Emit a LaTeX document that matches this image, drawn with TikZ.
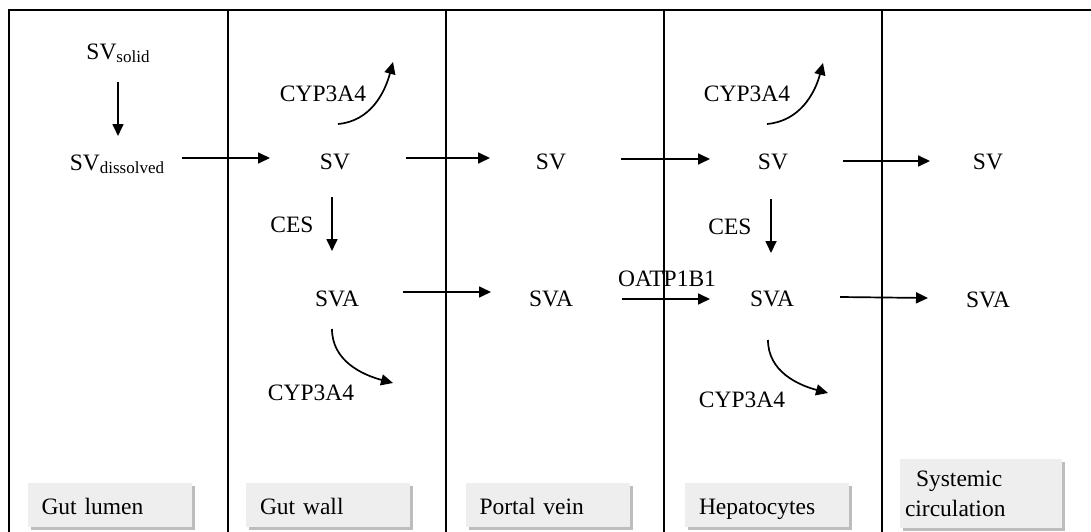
\documentclass[tikz,border=0pt]{standalone}
\usepackage{fontspec}
\setmainfont{Liberation Serif}
\usetikzlibrary{arrows.meta,shadows}
\definecolor{boxfill}{HTML}{EEEEEE}
\definecolor{boxshadow}{HTML}{BDBDBD}
\newcommand\mysubtxt[1]{\raisebox{-2.5pt}{\fontsize{17}{17}\selectfont #1}}
\begin{document}
\begin{tikzpicture}[x=1pt,y=1pt,
  font=\fontsize{23.5}{28}\selectfont,
  t/.style={inner sep=0pt, text height=15.5pt, text depth=0pt},
  arr/.style={line width=1.7pt, -{Triangle[length=12pt,width=11pt]}},
  frame/.style={line width=2.2pt},
  divider/.style={line width=1.8pt},
  boxbase/.style={fill=boxfill, inner ysep=0pt, inner xsep=14pt, text width=136pt,
    align=left, minimum height=44pt,
    general shadow={fill=boxshadow, shadow xshift=3pt, shadow yshift=-3pt}},
  boxlab/.style={boxbase, text height=20pt, text depth=1pt},
]
\useasboundingbox (0,0) rectangle (1091,-532);
% frame and column dividers
\draw[frame] (9,-532) -- (9,-10) -- (1091,-10);
\foreach \x in {228,446,664,882} \draw[divider] (\x,-10) -- (\x,-532);

% species nodes
\node[t] (svs) at (118,-52) {SV\mysubtxt{solid}};
\node[t] (svd) at (117,-163) {SV\mysubtxt{dissolved}};
\node[t] (sv1) at (335,-162) {SV};
\node[t] (sv2) at (551,-162) {SV};
\node[t] (sv3) at (773,-162) {SV};
\node[t] (sv4) at (988,-162) {SV};
\node[t] (sva1) at (337,-299) {SVA};
\node[t] (sva2) at (551,-299) {SVA};
\node[t] (sva3) at (772,-299) {SVA};
\node[t] (sva4) at (988,-300) {SVA};

% enzyme / transporter labels
\node[t] (c1) at (323,-94) {CYP3A4};
\node[t] (c2) at (311,-393) {CYP3A4};
\node[t] (c3) at (747,-94) {CYP3A4};
\node[t] (c4) at (742,-400) {CYP3A4};
\node[t] (ces1) at (292,-225) {CES};
\node[t] (ces2) at (730,-227) {CES};
\node[t] (oatp) at (667,-279) {OATP1B1};

% free ends of metabolism arrows
\coordinate (e1) at (393,-62);
\coordinate (e2) at (393,-383);
\coordinate (e3) at (823,-63);
\coordinate (e4) at (828,-393);

% straight arrows
\draw[arr] ([shift={(0,-30)}]svs.center) -- ([shift={(1,27)}]svd.center);
\draw[arr] ([shift={(65,5)}]svd.center) -- ([shift={(-65,4)}]sv1.center);
\draw[arr] ([shift={(71,4)}]sv1.center) -- ([shift={(-61,4)}]sv2.center);
\draw[arr] ([shift={(70,3)}]sv2.center) -- ([shift={(-63,3)}]sv3.center);
\draw[arr] ([shift={(70,1)}]sv3.center) -- ([shift={(-58,1)}]sv4.center);
\draw[arr] ([shift={(-3,-35)}]sv1.center) -- ([shift={(-5,48)}]sva1.center);
\draw[arr] ([shift={(-2,-37)}]sv3.center) -- ([shift={(-1,46)}]sva3.center);
\draw[arr] ([shift={(66,7)}]sva1.center) -- ([shift={(-60,7)}]sva2.center);
\draw[arr] ([shift={(71,0)}]sva2.center) -- ([shift={(-62,0)}]sva3.center);
\draw[arr] ([shift={(68,2)}]sva3.center) -- ([shift={(-60,2)}]sva4.center);

% curved metabolism arrows
\draw[arr] ([shift={(3,38)}]sv1.center) to[out=5,in=-105] (e1);
\draw[arr] ([shift={(-5,-30)}]sva1.center) to[out=-90,in=165] (e2);
\draw[arr] ([shift={(-6,38)}]sv3.center) to[out=5,in=-105] (e3);
\draw[arr] ([shift={(-4,-41)}]sva3.center) to[out=-90,in=165] (e4);

% compartment labels
\node[boxlab] (gl) at (109.5,-505) {Gut lumen};
\node[boxlab] (gw) at (328,-505) {Gut wall};
\node[boxlab] (pv) at (547.5,-505) {Portal vein};
\node[boxlab] (hp) at (767,-505) {Hepatocytes};
\node[boxbase, inner xsep=5pt, text width=152pt, minimum height=69pt,
  font=\fontsize{23.5}{30}\selectfont] (sc) at (981,-493.5)
  {\hspace*{11pt}Systemic\\circulation};
\end{tikzpicture}
\end{document}
